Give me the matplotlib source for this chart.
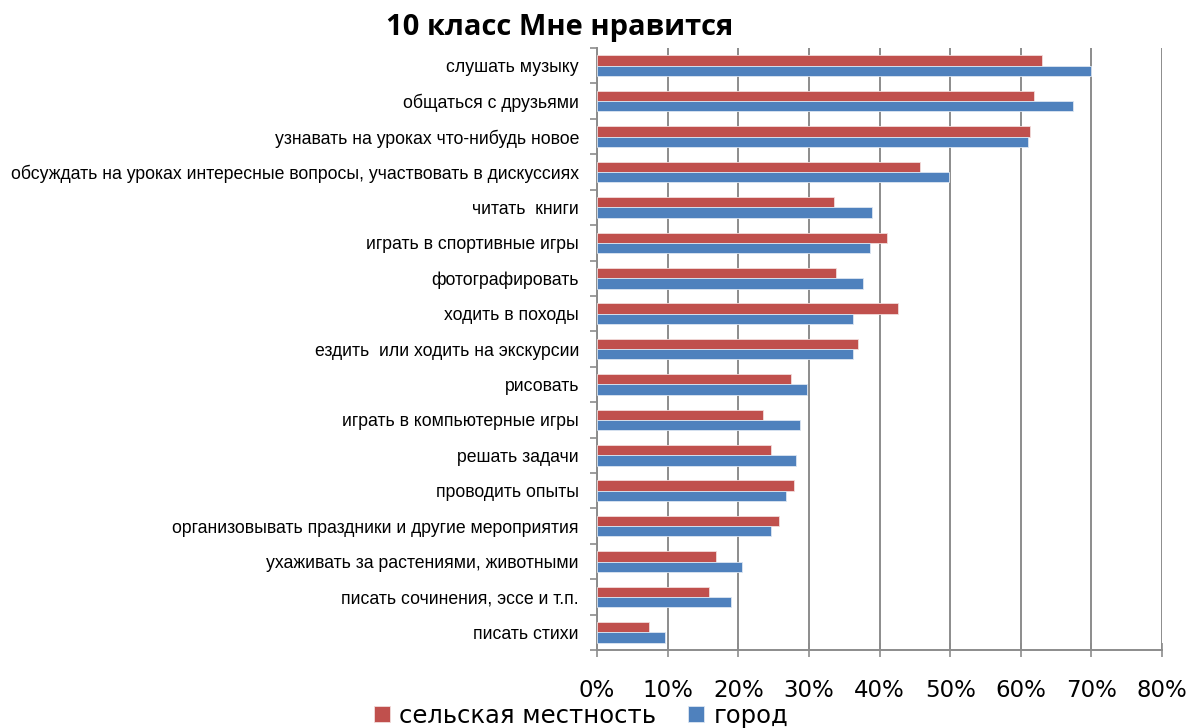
import numpy as np
import matplotlib.pyplot as plt
from matplotlib.ticker import FixedLocator, PercentFormatter

categories = [
    'слушать музыку',
    'общаться с друзьями',
    'узнавать на уроках что-нибудь новое',
    'обсуждать на уроках интересные вопросы, участвовать в дискуссиях',
    'читать  книги',
    'играть в спортивные игры',
    'фотографировать',
    'ходить в походы',
    'ездить  или ходить на экскурсии',
    'рисовать',
    'играть в компьютерные игры',
    'решать задачи',
    'проводить опыты',
    'организовывать праздники и другие мероприятия',
    'ухаживать за растениями, животными',
    'писать сочинения, эссе и т.п.',
    'писать стихи',
]
rural = [63.0, 61.8, 61.3, 45.7, 33.5, 41.1, 33.9, 42.6, 37.0, 27.5, 23.5, 24.6, 27.9, 25.7, 16.8, 15.9, 7.4]
city = [70.0, 67.4, 61.0, 49.9, 39.0, 38.6, 37.7, 36.2, 36.2, 29.7, 28.8, 28.1, 26.7, 24.6, 20.5, 19.0, 9.6]
xticks = [0, 10, 20, 30, 40, 50, 60, 70, 80]

red = '#C0504D'
blue = '#4F81BD'
grid_c = '#8C8C8C'

fig = plt.figure(figsize=(11.91, 7.28), dpi=100)
ax = fig.add_axes([0.5013, 0.107, 0.4744, 0.827])

y = np.arange(len(categories))
h = 0.29
ax.barh(y - h / 2, rural, height=h, color=red, edgecolor='#F2DCDB', linewidth=0.6,
        label='сельская местность', zorder=3)
ax.barh(y + h / 2, city, height=h, color=blue, edgecolor='#DCE6F2', linewidth=0.6,
        label='город', zorder=3)

ax.set_xlim(0, 80)
ax.set_ylim(len(categories) - 0.5, -0.5)

ax.set_xticks(xticks)
ax.xaxis.set_major_formatter(PercentFormatter(decimals=0))
ax.grid(axis='x', color=grid_c, linewidth=1.4, zorder=0)

ax.set_yticks(y)
ax.set_yticklabels(categories, fontsize=12.7, family=['Liberation Sans', 'DejaVu Sans'])
ax.yaxis.set_minor_locator(FixedLocator(np.arange(-0.5, len(categories), 1)))
ax.tick_params(axis='y', which='major', length=0, pad=13)
ax.tick_params(axis='y', which='minor', length=5, color=grid_c, width=1.2)
ax.tick_params(axis='x', length=10, color=grid_c, width=1.2, pad=16,
               labelsize=16.5, direction='inout')

for s in ['top', 'right']:
    ax.spines[s].set_visible(False)
for s in ['left', 'bottom']:
    ax.spines[s].set_color(grid_c)
    ax.spines[s].set_linewidth(1.4)

fig.text(0.47, 0.962, '10 класс Мне нравится', ha='center', va='center',
         fontsize=21, fontweight='bold', family=['Open Sans', 'DejaVu Sans'])

fig.legend(loc='center left', bbox_to_anchor=(0.314, 0.017), ncol=2, frameon=False,
           prop={'size': 17.5},
           handlelength=0.65, handleheight=0.65, handletextpad=0.4, columnspacing=1.3,
           borderpad=0, borderaxespad=0)

fig.savefig('out.png', dpi=100)
